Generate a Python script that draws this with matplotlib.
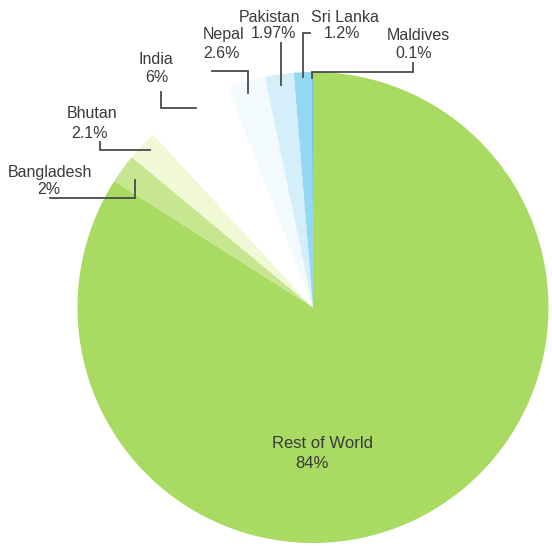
import matplotlib.pyplot as plt

# share of the world total, clockwise from 12 o'clock
countries = ['Rest of World', 'Bangladesh', 'Bhutan', 'India', 'Nepal',
             'Pakistan', 'Sri Lanka', 'Maldives']
shares = [84, 2, 2.1, 6, 2.6, 1.97, 1.2, 0.1]
share_labels = ['84%', '2%', '2.1%', '6%', '2.6%', '1.97%', '1.2%', '0.1%']

colors = ['#a9da62', '#c6e78f', '#f0f8d6', '#ffffff', '#f3fafd',
          '#d4eff9', '#93d7f3', '#6cc6ee']

H = 546  # figure height in px, used to flip y


def fy(y):
    # px from top -> data y; +2 since va='center' includes the descender
    return H - y - 2


fig = plt.figure(figsize=(5.52, 5.46), dpi=100)
ax = fig.add_axes([0, 0, 1, 1])

ax.pie(shares, colors=colors, startangle=90, counterclock=False,
       center=(313, H - 307.5), radius=235.5, frame=True,
       wedgeprops=dict(linewidth=0))

ax.set_xlim(0, 552)
ax.set_ylim(0, H)
ax.axis('off')

txt = dict(ha='center', va='center', color='#3a3a3a', family='Liberation Sans')

# name line and percent line centres (pixel coords, y from top)
name_pos = {
    'Rest of World': (323, 442),
    'Bangladesh': (50, 170),
    'Bhutan': (92, 111),
    'India': (156, 58),
    'Nepal': (224, 33),
    'Pakistan': (269, 15),
    'Sri Lanka': (345, 15),
    'Maldives': (418, 33),
}
pct_pos = {
    'Rest of World': (312, 462),
    'Bangladesh': (49, 188),
    'Bhutan': (90, 132),
    'India': (157, 76),
    'Nepal': (222, 51),
    'Pakistan': (274, 32),
    'Sri Lanka': (342, 32),
    'Maldives': (414, 51),
}
leaders = {
    'Bangladesh': [(50, 198), (135, 198), (135, 180)],
    'Bhutan': [(100, 142), (100, 150), (150, 150)],
    'India': [(161, 92), (161, 108), (196, 108)],
    'Nepal': [(212, 71), (248, 71), (248, 93)],
    'Pakistan': [(281, 43), (281, 85)],
    'Sri Lanka': [(310, 33), (303, 33), (303, 77)],
    'Maldives': [(413, 63), (413, 72), (312, 72), (312, 78)],
}

for name, lab in zip(countries, share_labels):
    size = 12 if name == 'Rest of World' else 11.5
    x, y = name_pos[name]
    ax.text(x, fy(y), name, fontsize=size, **txt)
    x, y = pct_pos[name]
    ax.text(x, fy(y), lab, fontsize=size, **txt)
    if name in leaders:
        pts = leaders[name]
        ax.plot([p[0] for p in pts], [H - p[1] for p in pts],
                color='#4a4a4a', lw=1.3, solid_joinstyle='miter')

fig.savefig('out.png', dpi=100)
